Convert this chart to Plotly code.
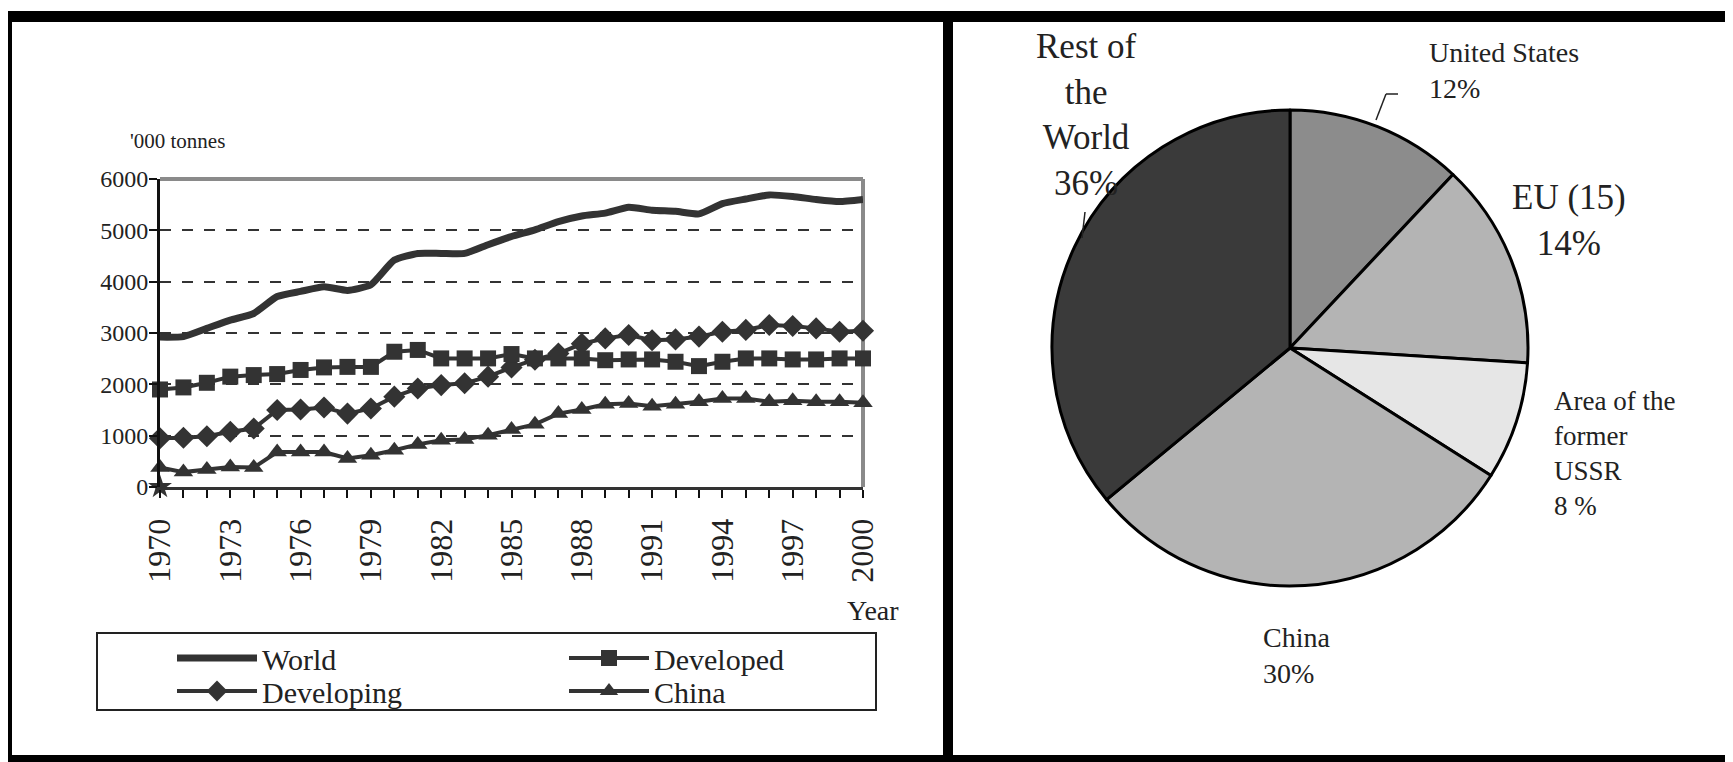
import plotly.graph_objects as go

W, H = 1733, 762
OFF = 8  # page body margin offset in the browser

years = list(range(1970, 2001))
world = [2920, 2930, 3090, 3250, 3380, 3710, 3810, 3900, 3830, 3940,
         4420, 4550, 4550, 4550, 4720, 4880, 5010, 5170, 5280, 5335,
         5450, 5390, 5370, 5320, 5520, 5610, 5690, 5660, 5600, 5560, 5600]
developed = [1900, 1940, 2030, 2150, 2180, 2200, 2280, 2330, 2340, 2340,
             2635, 2670, 2505, 2505, 2505, 2590, 2505, 2505, 2505, 2470,
             2485, 2485, 2440, 2355, 2440, 2505, 2505, 2485, 2485, 2505, 2505]
developing = [950, 960, 990, 1075, 1140, 1500, 1510, 1550, 1430, 1530,
              1760, 1920, 1985, 2020, 2150, 2330, 2480, 2600, 2790, 2895,
              2960, 2860, 2875, 2930, 3025, 3060, 3155, 3135, 3090, 3025, 3045]
china = [380, 290, 340, 390, 380, 680, 680, 680, 555, 620,
         715, 830, 910, 925, 1010, 1120, 1220, 1430, 1510, 1610,
         1625, 1575, 1610, 1660, 1725, 1725, 1660, 1680, 1660, 1660, 1640]
china_start_year = [1970]
china_start_value = [0]

pie_labels = ["United States", "EU (15)", "Area of the former USSR", "China", "Rest of the World"]
pie_values = [12, 14, 8, 30, 36]
pie_colors = ["#8c8c8c", "#b4b4b4", "#e6e6e6", "#b4b4b4", "#3a3a3a"]

FONT = "Liberation Serif"
INK = "#333333"


def px(x):
    return (x - OFF) / W


def py(y):
    return 1 - (y - OFF) / H


fig = go.Figure()

fig.add_trace(go.Scatter(x=years, y=world, name="World", mode="lines",
                         line=dict(color=INK, width=7, shape="spline", smoothing=0.5),
                         legend="legend", cliponaxis=False))
fig.add_trace(go.Scatter(x=years, y=developing, name="Developing", mode="lines+markers",
                         line=dict(color=INK, width=4),
                         marker=dict(symbol="diamond", size=17, color=INK),
                         legend="legend2", cliponaxis=False))
fig.add_trace(go.Scatter(x=years, y=developed, name="Developed", mode="lines+markers",
                         line=dict(color=INK, width=4),
                         marker=dict(symbol="square", size=16, color=INK),
                         legend="legend3", cliponaxis=False))
fig.add_trace(go.Scatter(x=years, y=china, name="China", mode="lines+markers",
                         line=dict(color=INK, width=4),
                         marker=dict(symbol="triangle-up", size=17, color=INK),
                         legend="legend4", cliponaxis=False))
fig.add_trace(go.Scatter(x=china_start_year, y=china_start_value, mode="markers",
                         marker=dict(symbol="star", size=18, color=INK),
                         showlegend=False, cliponaxis=False))

fig.add_trace(go.Pie(labels=pie_labels, values=pie_values, sort=False,
                     direction="clockwise", rotation=0, textinfo="none",
                     marker=dict(colors=pie_colors, line=dict(color="black", width=3)),
                     domain=dict(x=[px(1290 - 238), px(1290 + 238)],
                                 y=[py(348 + 240), py(348 - 240)]),
                     showlegend=False, hoverinfo="label+percent"))

xd = [px(160), px(863)]
yd = [py(487), py(179)]


def leg(x, y):
    return dict(x=px(x), y=py(y), xanchor="left", yanchor="middle",
                bgcolor="rgba(0,0,0,0)", borderwidth=0, itemwidth=80,
                font=dict(size=30, family=FONT, color="#222222"))


fig.update_layout(
    width=W, height=H,
    margin=dict(l=0, r=0, t=0, b=0, autoexpand=False),
    paper_bgcolor="white", plot_bgcolor="white",
    font=dict(family=FONT, color="#222222"),
    xaxis=dict(domain=xd, range=[1970, 2000], tickmode="linear", tick0=1970, dtick=3,
               ticks="outside", ticklen=8, tickwidth=2, tickcolor="#111111",
               minor=dict(tick0=1970, dtick=1, ticks="outside", ticklen=8, tickwidth=2,
                          tickcolor="#111111"),
               showline=True, linecolor="#333333", linewidth=3,
               tickangle=-90, tickfont=dict(size=32, family=FONT, color="#222222"),
               showgrid=False, zeroline=False, ticklabelstandoff=8, fixedrange=True,
               automargin=False),
    yaxis=dict(domain=yd, range=[0, 6000], tickmode="linear", tick0=0, dtick=1000,
               ticks="outside", ticklen=8, tickwidth=2, tickcolor="#111111",
               showline=True, linecolor="#111111", linewidth=3,
               showgrid=True, gridcolor="#333333", gridwidth=2, griddash="11px,11px",
               zeroline=False, tickfont=dict(size=24, family=FONT, color="#222222"),
               ticklabelstandoff=-4, fixedrange=True, automargin=False),
    legend=leg(172, 658),
    legend2=leg(172, 691),
    legend3=leg(564, 658),
    legend4=leg(564, 691),
)

shapes = []
# outer frame
for (x0, y0, x1, y1) in [(0, 11, W + 20, 22), (0, 11, 12, H + 20), (0, 755, W + 20, H + 20),
                         (943, 11, 953, H + 20)]:
    shapes.append(dict(type="rect", xref="paper", yref="paper",
                       x0=px(x0), x1=px(x1), y0=py(y1), y1=py(y0),
                       fillcolor="black", line=dict(width=0), layer="above"))
# gray top/right border of plot area
shapes.append(dict(type="line", xref="paper", yref="paper", x0=xd[0], x1=xd[1], y0=yd[1], y1=yd[1],
                   line=dict(color="#8a8a8a", width=4), layer="above"))
shapes.append(dict(type="line", xref="paper", yref="paper", x0=xd[1], x1=xd[1], y0=yd[0], y1=yd[1],
                   line=dict(color="#8a8a8a", width=4), layer="below"))
# legend box
shapes.append(dict(type="rect", xref="paper", yref="paper", x0=px(97), x1=px(876),
                   y0=py(710), y1=py(633), line=dict(color="#222222", width=2),
                   fillcolor="rgba(0,0,0,0)"))
# pie leader lines
shapes.append(dict(type="line", xref="paper", yref="paper", x0=px(1085), y0=py(212),
                   x1=px(1082), y1=py(238), line=dict(color="#222222", width=1.5)))
shapes.append(dict(type="line", xref="paper", yref="paper", x0=px(1398), y0=py(94),
                   x1=px(1386), y1=py(94), line=dict(color="#222222", width=1.5)))
shapes.append(dict(type="line", xref="paper", yref="paper", x0=px(1386), y0=py(94),
                   x1=px(1376), y1=py(120), line=dict(color="#222222", width=1.5)))
fig.update_layout(shapes=shapes)

annos = [
    dict(text="'000 tonnes", x=px(128), y=py(141), xanchor="left", yanchor="middle",
         font=dict(size=21)),
    dict(text="Year", x=px(873), y=py(610), xanchor="center", yanchor="middle",
         font=dict(size=28)),
    dict(text="Rest of<br>the<br>World<br>36%", x=px(1086), y=py(115), xanchor="center",
         yanchor="middle", align="center", font=dict(size=35)),
    dict(text="United States<br>12%", x=px(1427), y=py(71), xanchor="left",
         yanchor="middle", align="left", font=dict(size=28)),
    dict(text="EU (15)<br>14%", x=px(1569), y=py(221), xanchor="center",
         yanchor="middle", align="center", font=dict(size=35)),
    dict(text="Area of the<br>former<br>USSR<br>8 %", x=px(1552), y=py(453), xanchor="left",
         yanchor="middle", align="left", font=dict(size=27)),
    dict(text="China<br>30%", x=px(1261), y=py(655), xanchor="left",
         yanchor="middle", align="left", font=dict(size=28)),
]
for a in annos:
    a.update(xref="paper", yref="paper", showarrow=False)
    a["font"].update(family=FONT, color="#222222")
fig.update_layout(annotations=annos)

fig.write_html("out.html")
